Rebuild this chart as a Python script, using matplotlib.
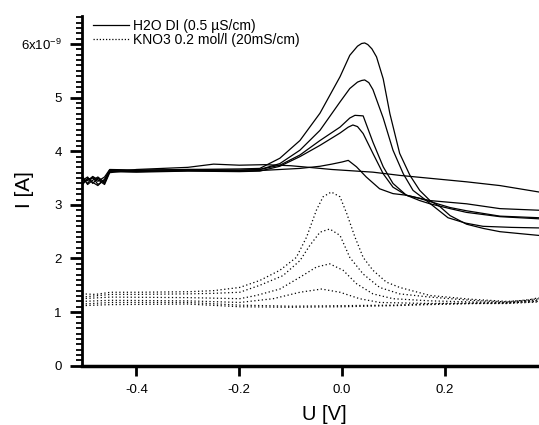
import matplotlib
matplotlib.use("Agg")
import matplotlib.pyplot as plt
from matplotlib.lines import Line2D
from matplotlib.ticker import MultipleLocator, FixedLocator, FixedFormatter

plt.rcParams['font.family'] = ['Liberation Sans', 'DejaVu Sans']
plt.rcParams['mathtext.default'] = 'regular'

# ---- data (U in V, I in nA) ----
# H2O DI (solid)
xa = [-0.506, -0.495, -0.485, -0.475, -0.462, -0.452, -0.40, -0.30, -0.20, -0.16, -0.121, -0.082, -0.043, -0.004,
      0.015, 0.030, 0.038, 0.044, 0.050, 0.058, 0.067, 0.080, 0.093, 0.112, 0.132, 0.151, 0.171, 0.19, 0.21, 0.242,
      0.275, 0.307, 0.35, 0.383]
ya = [3.50, 3.40, 3.52, 3.38, 3.46, 3.65, 3.64, 3.66, 3.67, 3.68, 3.87, 4.20, 4.71, 5.39,
      5.79, 5.96, 6.01, 6.02, 5.99, 5.91, 5.76, 5.35, 4.70, 3.96, 3.55, 3.27, 3.08, 2.97, 2.80, 2.64,
      2.56, 2.50, 2.46, 2.43]

xb = [-0.506, -0.495, -0.485, -0.475, -0.462, -0.452, -0.40, -0.30, -0.20, -0.16, -0.121, -0.082, -0.043, -0.004,
      0.015, 0.030, 0.038, 0.044, 0.052, 0.060, 0.080, 0.099, 0.119, 0.138, 0.164, 0.185, 0.206, 0.24, 0.274, 0.33,
      0.383]
yb = [3.45, 3.52, 3.40, 3.50, 3.40, 3.63, 3.62, 3.64, 3.64, 3.66, 3.77, 4.02, 4.39, 4.92,
      5.17, 5.29, 5.32, 5.33, 5.28, 5.15, 4.62, 4.02, 3.58, 3.27, 3.08, 2.92, 2.76, 2.66, 2.60, 2.58,
      2.57]

xc = [-0.506, -0.495, -0.485, -0.475, -0.462, -0.452, -0.40, -0.30, -0.20, -0.16, -0.121, -0.082, -0.043, -0.004,
      0.015, 0.025, 0.041, 0.060, 0.080, 0.099, 0.125, 0.151, 0.171, 0.21, 0.242, 0.307, 0.383]
yc = [3.40, 3.48, 3.50, 3.44, 3.52, 3.66, 3.65, 3.66, 3.65, 3.66, 3.74, 3.93, 4.20, 4.45,
      4.62, 4.67, 4.66, 4.17, 3.71, 3.40, 3.18, 3.08, 3.02, 2.93, 2.86, 2.78, 2.74]

xd = [-0.506, -0.495, -0.485, -0.475, -0.462, -0.452, -0.40, -0.30, -0.20, -0.16, -0.121, -0.082, -0.043, -0.004,
      0.012, 0.021, 0.030, 0.041, 0.060, 0.080, 0.099, 0.125, 0.151, 0.175, 0.21, 0.242, 0.307, 0.383]
yd = [3.55, 3.38, 3.46, 3.52, 3.42, 3.62, 3.61, 3.63, 3.62, 3.63, 3.72, 3.90, 4.11, 4.34,
      4.45, 4.49, 4.46, 4.33, 3.96, 3.58, 3.33, 3.18, 3.12, 3.05, 2.95, 2.89, 2.79, 2.76]

xe = [-0.506, -0.495, -0.485, -0.475, -0.462, -0.452, -0.40, -0.30, -0.20, -0.16, -0.121, -0.082, -0.043, -0.02,
      0.0, 0.012, 0.028, 0.047, 0.073, 0.099, 0.125, 0.171, 0.242, 0.307, 0.383]
ye = [3.36, 3.50, 3.42, 3.36, 3.48, 3.64, 3.63, 3.64, 3.63, 3.64, 3.66, 3.68, 3.72, 3.76,
      3.80, 3.83, 3.71, 3.52, 3.30, 3.21, 3.18, 3.08, 3.02, 2.93, 2.90]

xf = [-0.506, -0.495, -0.485, -0.475, -0.462, -0.452, -0.40, -0.30, -0.25, -0.20, -0.15, -0.10, -0.076, -0.02,
      0.06, 0.112, 0.177, 0.242, 0.307, 0.383]
yf = [3.48, 3.45, 3.53, 3.47, 3.38, 3.60, 3.66, 3.70, 3.76, 3.74, 3.75, 3.73, 3.71, 3.66,
      3.61, 3.55, 3.49, 3.43, 3.36, 3.24]

# KNO3 0.2 mol/l (dotted)
xp1 = [-0.506, -0.48, -0.45, -0.40, -0.30, -0.25, -0.199, -0.16, -0.121, -0.089, -0.069, -0.05, -0.037, -0.021,
       -0.004, 0.009, 0.025, 0.041, 0.06, 0.086, 0.112, 0.171, 0.25, 0.32, 0.36, 0.383]
yp1 = [1.34, 1.33, 1.37, 1.37, 1.38, 1.40, 1.46, 1.59, 1.78, 2.02, 2.40, 2.90, 3.15, 3.24,
       3.15, 2.84, 2.40, 2.02, 1.78, 1.56, 1.46, 1.31, 1.24, 1.20, 1.22, 1.27]

xp2 = [-0.506, -0.45, -0.40, -0.30, -0.25, -0.199, -0.16, -0.115, -0.082, -0.063, -0.043, -0.024, -0.004, 0.015,
       0.041, 0.073, 0.112, 0.171, 0.25, 0.32, 0.383]
yp2 = [1.28, 1.33, 1.33, 1.34, 1.35, 1.37, 1.50, 1.68, 1.96, 2.24, 2.49, 2.55, 2.43, 2.02,
       1.71, 1.46, 1.34, 1.28, 1.22, 1.19, 1.25]

xp3 = [-0.506, -0.45, -0.30, -0.199, -0.167, -0.121, -0.082, -0.05, -0.024, 0.002, 0.028, 0.06, 0.099, 0.171,
       0.25, 0.32, 0.383]
yp3 = [1.25, 1.28, 1.27, 1.25, 1.31, 1.43, 1.65, 1.84, 1.90, 1.78, 1.53, 1.34, 1.25, 1.21,
       1.19, 1.18, 1.23]

xp4 = [-0.506, -0.45, -0.30, -0.199, -0.134, -0.082, -0.04, -0.004, 0.034, 0.073, 0.171, 0.25, 0.32, 0.383]
yp4 = [1.20, 1.22, 1.21, 1.18, 1.25, 1.37, 1.43, 1.37, 1.25, 1.18, 1.16, 1.17, 1.17, 1.20]

xp5 = [-0.506, -0.45, -0.30, -0.199, -0.10, 0.0, 0.10, 0.171, 0.25, 0.32, 0.383]
yp5 = [1.15, 1.18, 1.18, 1.13, 1.11, 1.12, 1.13, 1.15, 1.16, 1.17, 1.22]

xp6 = [-0.506, -0.45, -0.30, -0.199, -0.10, 0.0, 0.10, 0.171, 0.25, 0.32, 0.383]
yp6 = [1.12, 1.14, 1.15, 1.10, 1.09, 1.10, 1.12, 1.14, 1.16, 1.16, 1.19]

solid_series = [(xa, ya), (xb, yb), (xc, yc), (xd, yd), (xe, ye), (xf, yf)]
dotted_series = [(xp1, yp1), (xp2, yp2), (xp3, yp3), (xp4, yp4), (xp5, yp5), (xp6, yp6)]

ytick_vals = [0, 1, 2, 3, 4, 5, 6]
ytick_labels = ['0', '1', '2', '3', '4', '5', '6x10$^{-9}$']
xtick_vals = [-0.4, -0.2, 0.0, 0.2]
xtick_labels = ['-0.4', '-0.2', '0.0', '0.2']
legend_labels = ['H2O DI (0.5 µS/cm)', 'KNO3 0.2 mol/l (20mS/cm)']

# ---- figure ----
fig = plt.figure(figsize=(5.39, 4.25), dpi=100)
ax = fig.add_axes([0.152, 0.1395, 0.848, 0.8225])

for x, y in solid_series:
    ax.plot(x, y, color='black', lw=0.9, solid_joinstyle='round')
for x, y in dotted_series:
    ax.plot(x, y, color='black', lw=0.9, linestyle=(0, (1, 2)))

ax.set_xlim(-0.506, 0.383)
ax.set_ylim(0, 6.52)

for s in ['top', 'right']:
    ax.spines[s].set_visible(False)
ax.spines['left'].set_linewidth(2)
ax.spines['bottom'].set_linewidth(2.5)

ax.yaxis.set_major_locator(FixedLocator(ytick_vals))
ax.yaxis.set_major_formatter(FixedFormatter(ytick_labels))
ax.yaxis.set_minor_locator(MultipleLocator(0.1))
ax.xaxis.set_major_locator(FixedLocator(xtick_vals))
ax.xaxis.set_major_formatter(FixedFormatter(xtick_labels))

ax.tick_params(axis='y', which='major', direction='out', length=8.5, width=2, labelsize=9.5, pad=6)
ax.tick_params(axis='y', which='minor', direction='out', length=4.3, width=1.3)
ax.tick_params(axis='x', which='major', direction='out', length=7.5, width=2, labelsize=9.5, pad=6)
ax.tick_params(axis='x', which='minor', length=0)

fig.text(24 / 539, 1 - 190 / 425, 'I [A]', rotation=90, ha='center', va='center', fontsize=15)
fig.text(324 / 539, 1 - 414 / 425, 'U [V]', ha='center', va='center', fontsize=14.5)

handles = [Line2D([], [], color='black', lw=0.9),
           Line2D([], [], color='black', lw=0.9, linestyle=(0, (1, 1.5)))]
fig.legend(handles, legend_labels, loc='upper left', bbox_to_anchor=(93 / 539, 1 - 19 / 425),
           frameon=False, fontsize=10, handlelength=2.6, handletextpad=0.3, labelspacing=0.0,
           borderpad=0, borderaxespad=0)

fig.savefig('out.png', dpi=100)
